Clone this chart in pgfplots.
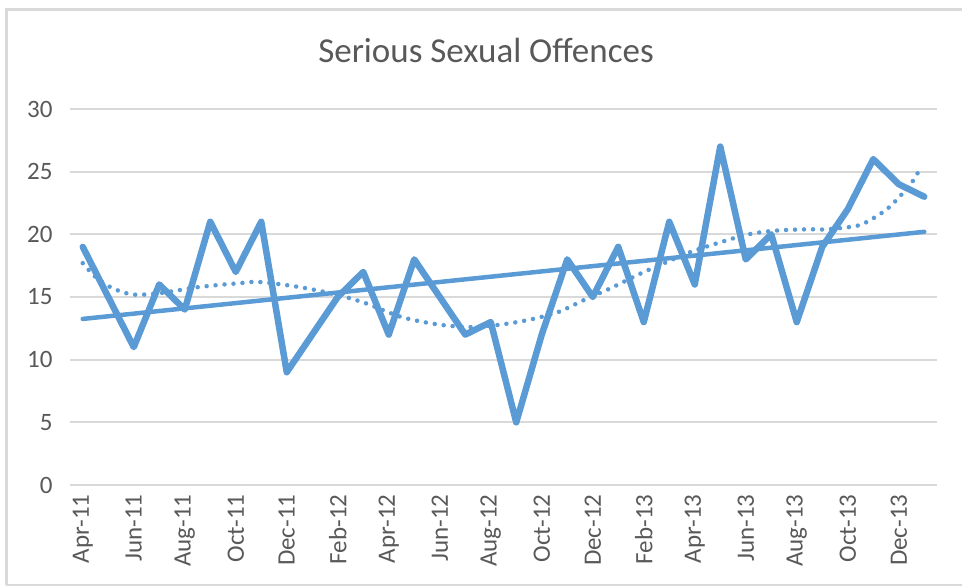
\documentclass[border=0pt]{standalone}
\usepackage{pgfplots}
\pgfplotsset{compat=1.18}
\usepackage{fontspec}
\setmainfont{Carlito}
\definecolor{blu}{HTML}{5B9BD5}
\definecolor{grd}{HTML}{D9D9D9}
\definecolor{txt}{HTML}{595959}
\begin{document}
\begin{tikzpicture}[x=1pt,y=1pt]
\path[use as bounding box] (0,0) rectangle (962,586);
\draw[grd, line width=3pt] (6,1) -- (6,576) -- (962,576);
\draw[grd, line width=2pt] (6,1) -- (962,1);
\node[anchor=base, text=txt, font=\fontsize{35}{40}\selectfont] at (486,523) {Serious Sexual Offences};
\begin{axis}[
  at={(70pt,101pt)}, anchor=south west,
  scale only axis, width=867pt, height=376pt,
  xmin=-0.5, xmax=33.5, ymin=0, ymax=30,
  axis line style={draw=none},
  ytick={0,5,...,30},
  ymajorgrids, grid style={grd, line width=2pt},
  xtick={0,2,...,32},
  xticklabels={Apr-11,Jun-11,Aug-11,Oct-11,Dec-11,Feb-12,Apr-12,Jun-12,Aug-12,Oct-12,Dec-12,Feb-13,Apr-13,Jun-13,Aug-13,Oct-13,Dec-13},
  x tick label style={rotate=90, anchor=east, text=txt, font=\fontsize{25}{28}\selectfont},
  y tick label style={text=txt, font=\fontsize{25}{28}\selectfont},
  /pgf/number format/assume math mode=true,
  major tick length=0pt,
  xticklabel shift=6pt, yticklabel shift=14pt,
  clip=false,
]
\draw[grd, line width=2pt] (axis cs:-0.5,0) -- (axis cs:33.5,0);
\addplot[blu, line width=6.5pt, line join=round, line cap=round] coordinates {
(0,19)(1,15)(2,11)(3,16)(4,14)(5,21)(6,17)(7,21)(8,9)(9,12)(10,15)(11,17)
(12,12)(13,18)(14,15)(15,12)(16,13)(17,5)(18,12)(19,18)(20,15)(21,19)(22,13)
(23,21)(24,16)(25,27)(26,18)(27,20)(28,13)(29,19)(30,22)(31,26)(32,24)(33,23)};
\addplot[blu, line width=4.5pt, line cap=round] coordinates {(0,13.25)(33,20.2)};
\addplot[blu, line width=4.5pt, line cap=round, dash pattern=on 0pt off 9pt, smooth, tension=0.5] coordinates {
(0,17.7)(0.55,16.5)(1.17,15.7)(1.95,15.2)(3.0,15.3)(4.57,15.8)(6.14,16.1)(6.92,16.2)
(8.48,15.8)(9.93,15.2)(11.1,14.5)(12.5,13.4)(13.96,12.8)(15.25,12.6)(16.4,12.8)
(17.55,13.2)(18.65,13.8)(19.7,14.8)(20.7,15.7)(21.8,16.8)(22.8,17.7)(23.85,18.6)
(24.9,19.3)(26.1,20.0)(27.2,20.3)(28.4,20.4)(29.2,20.4)(30.4,20.7)(31.1,21.4)
(31.7,22.3)(32.5,24.1)(32.9,25.5)};
\end{axis}
\end{tikzpicture}
\end{document}
